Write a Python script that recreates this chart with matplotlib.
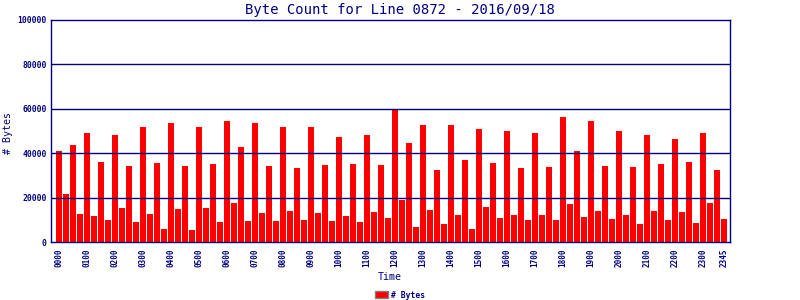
import matplotlib
matplotlib.use("Agg")
import matplotlib.pyplot as plt
from matplotlib.patches import Patch

bytes_vals = [
    41200, 21800, 43500, 12800, 49300, 11900, 36200, 10100, 48000, 15500,
    34400, 9200, 52000, 12800, 35800, 6000, 53800, 15000, 34400,
    5600, 51600, 15500, 35300, 9200, 54300, 17700, 42600, 9600, 53800,
    13200, 34400, 9600, 51600, 14100, 33500, 10100, 52000, 13200,
    34900, 9600, 47500, 11900, 35300, 9200, 48000, 13700, 34900, 11000,
    60000, 19100, 44400, 6900, 52500, 14600, 32600, 8300, 52900,
    12300, 37100, 6000, 51100, 15900, 35800, 11000, 49800, 12300, 33500,
    10100, 48900, 12300, 34000, 10100, 56100, 17300, 41200, 11400,
    54700, 14100, 34400, 10500, 50200, 12300, 34000, 8300, 48000, 14100,
    35300, 10100, 46200, 13700, 36200, 8700, 49300, 17700, 32600, 10500,
]
times = ["%02d%02d" % (i // 4, (i % 4) * 15) for i in range(96)]
tick_idx = list(range(0, 96, 4)) + [95]
tick_labels = [times[i] for i in tick_idx]
y_ticks = [0, 20000, 40000, 60000, 80000, 100000]

NAVY = "#000080"
mono = ["DejaVu Sans Mono"]

fig = plt.figure(figsize=(8, 3), dpi=100)
ax = fig.add_axes([51 / 800, 1 - 242 / 300, (730 - 51) / 800, (242 - 20) / 300])

x = list(range(len(bytes_vals)))
ax.bar(x, bytes_vals, width=6 / 7, color="#FF0000", zorder=1)

ax.set_xlim(-8 / 7, 95 + 6 / 7)
ax.set_ylim(0, 100000)
ax.set_yticks(y_ticks)
ax.set_yticklabels([str(v) for v in y_ticks], fontsize=5.8, fontweight="bold",
                   color=NAVY, family=mono)
ax.set_xticks(tick_idx)
ax.set_xticklabels(tick_labels, rotation=90, fontsize=5.5, fontweight="bold",
                   color=NAVY, family=mono, va="top")
ax.tick_params(axis="y", length=0, pad=3)
ax.tick_params(axis="x", length=0, pad=5)

for v in y_ticks[1:-1]:
    ax.axhline(v, color=NAVY, linewidth=1, zorder=2)
for s in ax.spines.values():
    s.set_color(NAVY)
    s.set_linewidth(1)
    s.set_zorder(3)

fig.text(0.5, 1 - 10 / 300, "Byte Count for Line 0872 - 2016/09/18",
         ha="center", va="center", fontsize=10, color=NAVY, family=mono)
fig.text(390 / 800, 1 - 277 / 300, "Time", ha="center", va="center",
         fontsize=7.2, color=NAVY, family=mono)
fig.text(8 / 800, 1 - 133 / 300, "# Bytes", ha="center", va="center",
         rotation=90, fontsize=7.2, color=NAVY, family=mono)

leg = fig.legend(handles=[Patch(facecolor="#FF0000", edgecolor="#808080", linewidth=1,
                                label="# Bytes")],
                 loc="center", bbox_to_anchor=(400 / 800, 1 - 295 / 300), frameon=False,
                 prop={"family": mono, "size": 5.8, "weight": "bold"},
                 handlelength=1.6, handleheight=1.0, handletextpad=0.4,
                 borderpad=0, borderaxespad=0)
for t in leg.get_texts():
    t.set_color(NAVY)

fig.savefig("out.png", dpi=100)
